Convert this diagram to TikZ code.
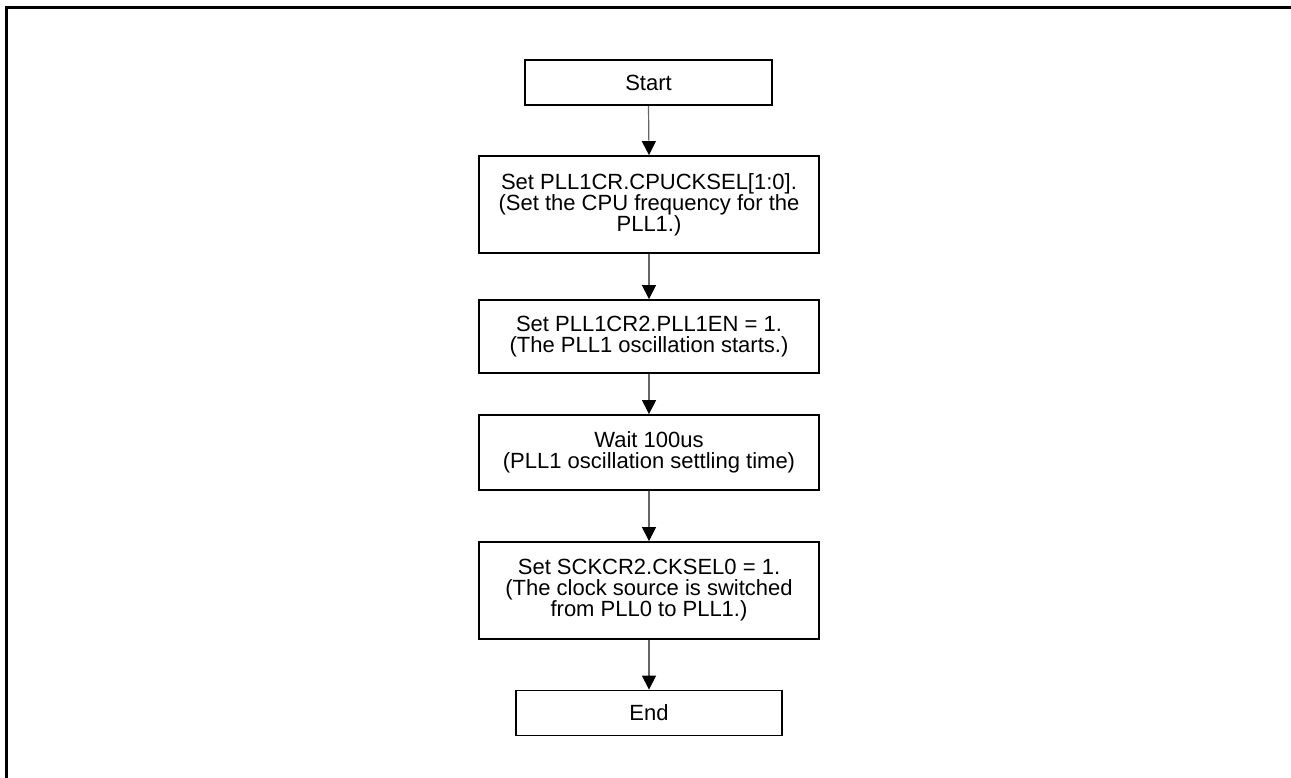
\documentclass[tikz,border=0pt]{standalone}
\usepackage{fontspec}
\setmainfont{Liberation Sans}
\usetikzlibrary{arrows.meta}

\begin{document}
\begin{tikzpicture}[x=1pt, y=-1pt,
stepbox/.style={rectangle, draw=black, line width=1.8pt, fill=white, minimum width=340pt, inner sep=0pt, align=center, font=\fontsize{22}{21}\selectfont},
termbox/.style={stepbox, minimum height=45pt},
flow/.style={draw=black!60, line width=1.2pt, -{Triangle[length=14pt, width=14pt, color=black]}},
]
\useasboundingbox (0,0) rectangle (1291,778);
% frame
\draw[line width=3pt, line join=miter] (6.5,778) -- (6.5,7.5) -- (1291,7.5);
%Nodes
\node[termbox, minimum width=247pt] (start) at (648.5,82.5) {Start};
\node[stepbox, minimum height=97pt] (cpusel) at (649,204.5)
  {Set PLL1CR.CPUCKSEL[1:0].\\(Set the CPU frequency for the\\PLL1.)};
\node[stepbox, minimum height=73pt] (pllen) at (649,336.5)
  {Set PLL1CR2.PLL1EN = 1.\\(The PLL1 oscillation starts.)};
\node[stepbox, minimum height=75pt] (wait) at (649,452.5)
  {Wait 100us\\(PLL1 oscillation settling time)};
\node[stepbox, minimum height=97pt] (cksel) at (649,590.5)
  {Set SCKCR2.CKSEL0 = 1.\\(The clock source is switched\\from PLL0 to PLL1.)};
\node[termbox, minimum width=266pt] (end) at (649,713) {End};
%Lines
\draw[flow] (start.south) -- (cpusel.north);
\draw[flow] (cpusel.south) -- (pllen.north);
\draw[flow] (pllen.south) -- (wait.north);
\draw[flow] (wait.south) -- (cksel.north);
\draw[flow] (cksel.south) -- (end.north);
\end{tikzpicture}
\end{document}
